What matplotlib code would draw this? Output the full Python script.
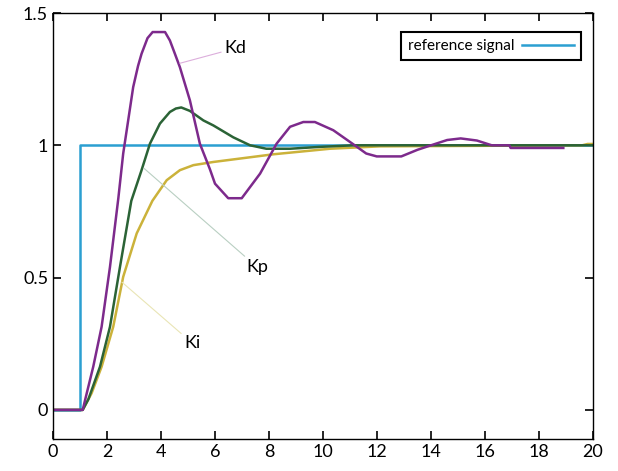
import numpy as np
import matplotlib.pyplot as plt

plt.rcParams['font.family'] = ['Lato', 'DejaVu Sans']

# reference step
t_ref = [0, 1, 1, 20]
y_ref = [0, 0, 1, 1]

# Kd response
t_kd = [0, 1.1, 1.25, 1.49, 1.8, 2.11, 2.42, 2.6, 2.73, 2.97, 3.15, 3.28, 3.5, 3.69, 4.15, 4.33, 4.5, 4.7,
        5.07, 5.44, 5.81, 6.0, 6.49, 6.99, 7.67, 8.28, 8.78, 9.27, 9.7, 10.38, 11.12, 11.6, 11.99,
        12.9, 13.5, 14.0, 14.6, 15.1, 15.7, 16.25, 16.9, 16.95, 18.9]
y_kd = [0, 0, 0.063, 0.163, 0.314, 0.54, 0.80, 0.969, 1.057, 1.22, 1.30, 1.346, 1.405, 1.428, 1.428, 1.396, 1.35, 1.295,
        1.17, 1.006, 0.91, 0.855, 0.80, 0.80, 0.893, 1.006, 1.07, 1.088, 1.088, 1.057, 1.004, 0.969, 0.958,
        0.958, 0.983, 1.0, 1.02, 1.026, 1.018, 1.0, 1.0, 0.99, 0.99]

# Kp response
t_kp = [0, 1.1, 1.31, 1.74, 2.11, 2.48, 2.9, 3.28, 3.59, 3.96, 4.33, 4.55, 4.75, 5.07, 5.57, 5.94, 6.68,
        7.3, 7.9, 8.78, 9.89, 11.1, 20.0]
y_kp = [0, 0, 0.04, 0.163, 0.314, 0.54, 0.79, 0.906, 1.006, 1.082, 1.126, 1.139, 1.143, 1.13, 1.094, 1.075, 1.03,
        1.0, 0.987, 0.987, 0.994, 1.0, 1.0]

# Ki response
t_ki = [0, 1.1, 1.43, 1.8, 2.23, 2.6, 3.1, 3.68, 4.21, 4.7, 5.2, 5.94, 8.16, 10.26, 12.1, 19.6, 19.8, 20.0]
y_ki = [0, 0, 0.063, 0.163, 0.314, 0.503, 0.667, 0.79, 0.868, 0.906, 0.925, 0.937, 0.966, 0.987, 0.996, 1.0, 1.005, 1.005]

c_ref = '#2b9fd1'
c_kd = '#7d2a8c'
c_kp = '#2b6336'
c_ki = '#cbb23a'

fig = plt.figure(figsize=(6.18, 4.71), dpi=100)
ax = fig.add_axes([53/618, 1-439/471, 540/618, 426/471])

ax.plot(t_ref, y_ref, color=c_ref, lw=1.8, label='reference signal')
ax.plot(t_ki, y_ki, color=c_ki, lw=1.8)
ax.plot(t_kp, y_kp, color=c_kp, lw=1.8)
ax.plot(t_kd, y_kd, color=c_kd, lw=1.8)

# labels with leader lines
ax.annotate('Kd', xy=(4.7, 1.31), xytext=(6.33, 1.366), fontsize=13, va='center', ha='left',
            arrowprops=dict(arrowstyle='-', color='#dcaedc', lw=0.8, shrinkA=0, shrinkB=0))
ax.annotate('Kp', xy=(3.37, 0.913), xytext=(7.15, 0.54), fontsize=13, va='center', ha='left',
            arrowprops=dict(arrowstyle='-', color='#b9cfc2', lw=0.8, shrinkA=0, shrinkB=0))
ax.annotate('Ki', xy=(2.55, 0.483), xytext=(4.85, 0.253), fontsize=13, va='center', ha='left',
            arrowprops=dict(arrowstyle='-', color='#e9e5b5', lw=0.8, shrinkA=0, shrinkB=0))

ax.set_xlim(0, 20)
ax.set_ylim(-0.11, 1.5)
ax.set_xticks(np.arange(0, 21, 2))
ax.set_yticks([0, 0.5, 1, 1.5])
ax.set_yticklabels(['0', '0.5', '1', '1.5'])
ax.tick_params(direction='in', top=True, right=True, length=6, width=1.2, labelsize=13)
for s in ax.spines.values():
    s.set_linewidth(1.0)

leg = ax.legend(loc='upper right', markerfirst=False, fancybox=False, fontsize=11,
                edgecolor='black', framealpha=1, borderpad=0.45, handlelength=3.4,
                handletextpad=0.5, borderaxespad=0, bbox_to_anchor=(0.978, 0.955))
leg.get_frame().set_linewidth(1.5)

fig.savefig('out.png', dpi=100)
